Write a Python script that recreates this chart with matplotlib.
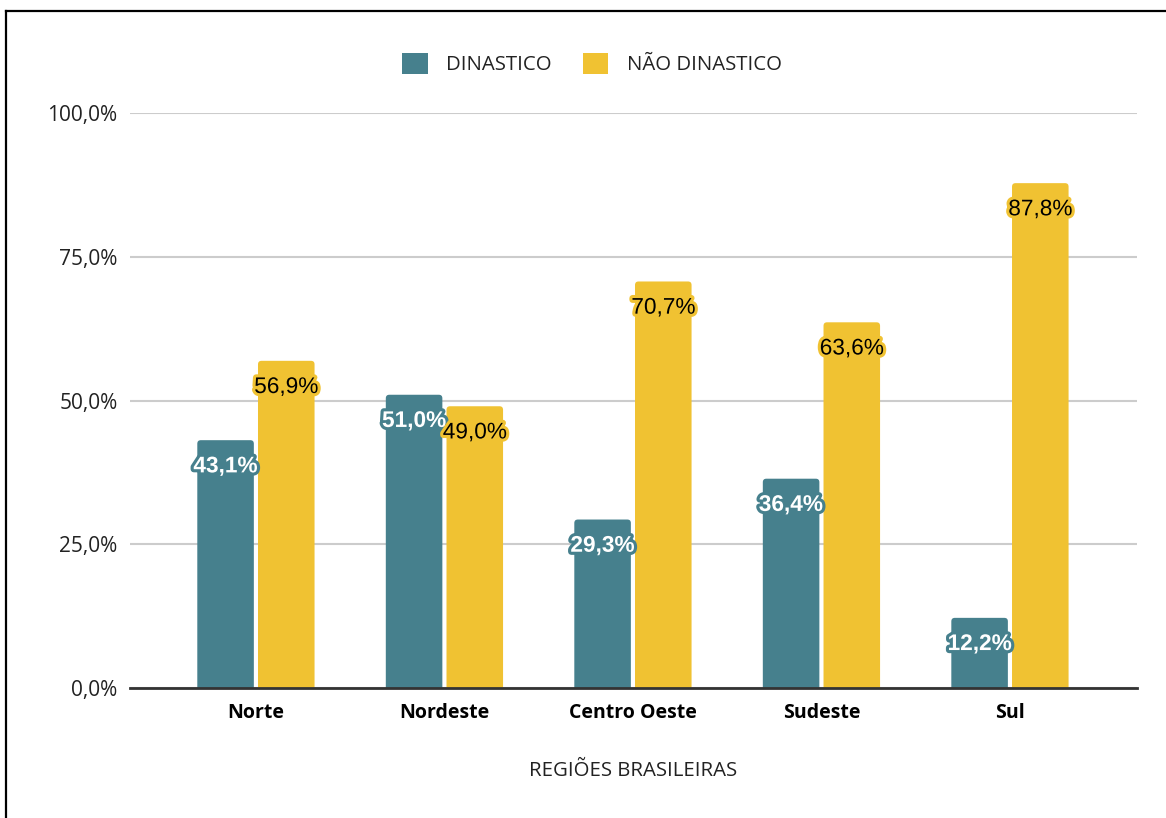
import matplotlib

matplotlib.use("Agg")
import matplotlib.pyplot as plt
import matplotlib.patheffects as pe
import numpy as np
from matplotlib.lines import Line2D
from matplotlib.patches import FancyBboxPatch, Patch
from matplotlib.ticker import FuncFormatter, MultipleLocator

regioes = ["Norte", "Nordeste", "Centro Oeste", "Sudeste", "Sul"]
dinastico = [43.1, 51.0, 29.3, 36.4, 12.2]
nao_dinastico = [56.9, 49.0, 70.7, 63.6, 87.8]
series_names = ["DINASTICO", "NÃO DINASTICO"]

_TEAL = "#46808d"
_YELLOW = "#f0c232"
_GRID = "#cccccc"
_TEXT = "#222222"

fig = plt.figure(figsize=(11.66, 8.18), dpi=100)
fig.patch.set_facecolor("white")
ax = fig.add_axes([130 / 1166, 1 - 688 / 818, 1007 / 1166, 575 / 818])

x = np.arange(len(regioes))
width = 0.30
gap = 0.011

px_x = 188.5  # pixels per x unit
px_y = 5.75   # pixels per y unit


def rounded_bars(xs, values, color):
    rects = ax.bar(xs, values, width, color=color)
    for r in rects:
        r.set_visible(False)
        rad = 3.5 / px_x
        patch = FancyBboxPatch(
            (r.get_x(), -2), r.get_width(), r.get_height() + 2,
            boxstyle=f"round,pad=0,rounding_size={rad}",
            mutation_aspect=px_x / px_y,
            facecolor=color, edgecolor="none", zorder=3,
        )
        ax.add_patch(patch)
    return rects


r1 = rounded_bars(x - width / 2 - gap, dinastico, _TEAL)
r2 = rounded_bars(x + width / 2 + gap, nao_dinastico, _YELLOW)


def label_bars(rects, values, txtcolor, halo, weight):
    for r, v in zip(rects, values):
        ax.annotate(
            f"{v:.1f}%".replace(".", ","),
            (r.get_x() + r.get_width() / 2, v),
            xytext=(0, -18.5), textcoords="offset points",
            ha="center", va="center", fontsize=16.3, color=txtcolor,
            family="Liberation Sans", fontweight=weight, zorder=5,
            path_effects=[pe.withStroke(linewidth=4.5, foreground=halo)],
        )


label_bars(r1, dinastico, "white", _TEAL, "bold")
label_bars(r2, nao_dinastico, "black", _YELLOW, "normal")

ax.set_xlim(-0.668, 4.674)
ax.set_ylim(0, 100)
ax.yaxis.set_major_locator(MultipleLocator(25))
ax.yaxis.set_major_formatter(FuncFormatter(lambda v, _: f"{v:.1f}%".replace(".", ",")))
ax.yaxis.grid(True, color=_GRID, linewidth=1.5)
ax.set_axisbelow(True)
for s in ["top", "right", "left"]:
    ax.spines[s].set_visible(False)
ax.spines["bottom"].set_color("#333333")
ax.spines["bottom"].set_linewidth(2)
ax.spines["bottom"].set_zorder(6)

ax.set_xticks(x)
ax.set_xticklabels(regioes, fontsize=14, fontweight="bold", family="Open Sans", color="black")
ax.tick_params(axis="both", length=0)
ax.tick_params(axis="x", pad=11)
ax.tick_params(axis="y", pad=9)
for lbl in ax.get_yticklabels():
    lbl.set_fontsize(15)
    lbl.set_family("Open Sans")
    lbl.set_color(_TEXT)

ax.set_xlabel("REGIÕES BRASILEIRAS", fontsize=14.7, family="Open Sans", color=_TEXT, labelpad=27)

handles = [Patch(facecolor=_TEAL), Patch(facecolor=_YELLOW)]
fig.legend(
    handles, series_names, loc="center", bbox_to_anchor=(592 / 1166, 1 - 64 / 818),
    ncol=2, frameon=False, handlelength=1.25, handleheight=1.25,
    handletextpad=0.9, columnspacing=1.5,
    prop={"family": "Open Sans", "size": 14.7}, labelcolor=_TEXT,
)

# frame lines along the left and top edges
fig.add_artist(Line2D([6 / 1166, 6 / 1166], [0, 1 - 11 / 818], color="black", linewidth=1.6))
fig.add_artist(Line2D([6 / 1166, 1], [1 - 11 / 818, 1 - 11 / 818], color="black", linewidth=1.6))

fig.savefig("out.png", dpi=100, facecolor="white")
